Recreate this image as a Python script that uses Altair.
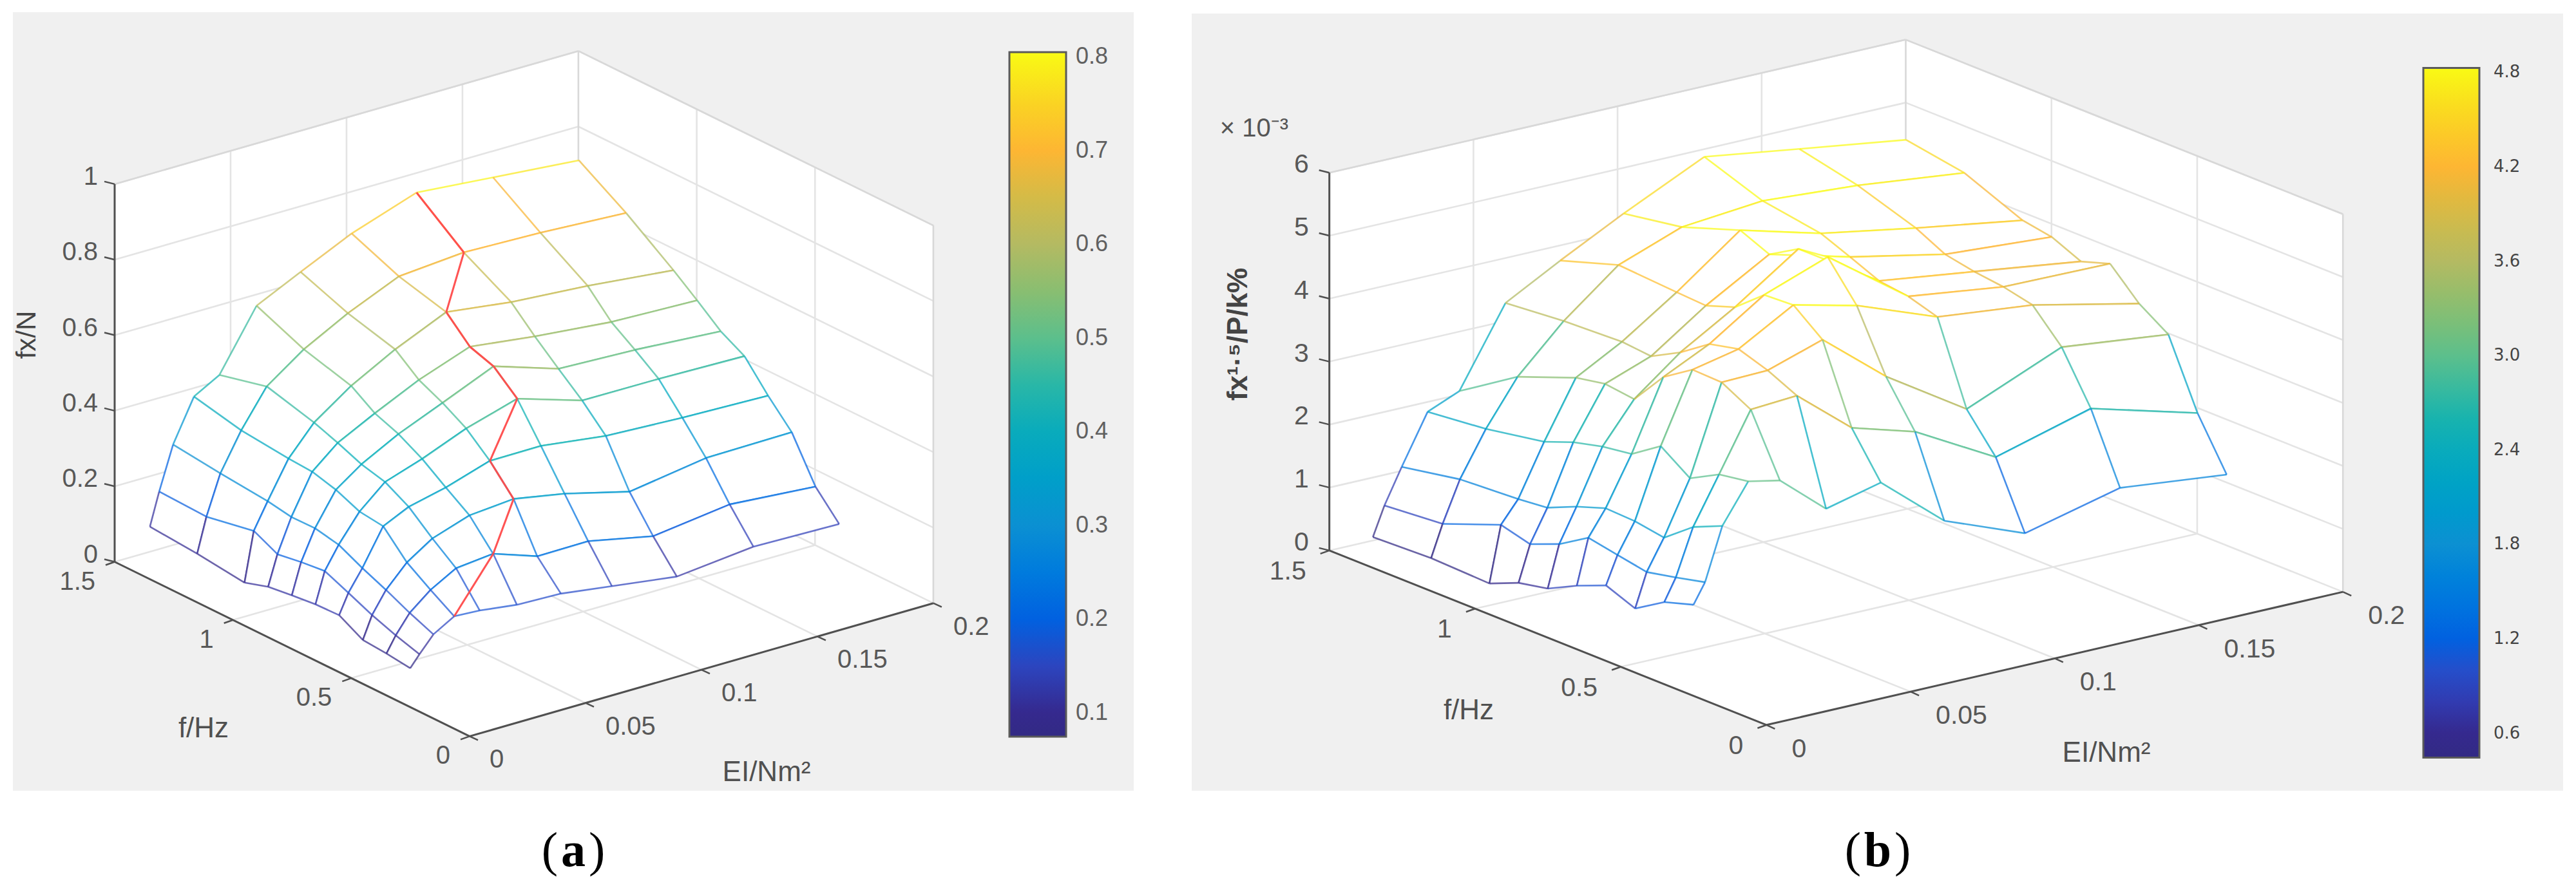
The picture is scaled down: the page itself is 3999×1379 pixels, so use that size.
import altair as alt
import pandas as pd

# ---------- data ----------
f_vals = [0.3, 0.4, 0.5, 0.6, 0.7, 0.8, 0.9, 1.0, 1.2, 1.4]
ei_vals = [0.005, 0.009, 0.015, 0.024, 0.035, 0.051, 0.07, 0.092, 0.12, 0.153, 0.19]

z_a = [
    [.079, .109, .151, .183, .179, .166, .162, .143, .119, .140, .135],
    [.087, .128, .177, .222, .260, .270, .230, .231, .195, .221, .203],
    [.092, .151, .207, .264, .308, .341, .351, .326, .282, .313, .316],
    [.127, .179, .234, .329, .361, .384, .421, .422, .399, .389, .382],
    [.125, .206, .265, .337, .396, .429, .476, .516, .462, .461, .456],
    [.118, .199, .278, .364, .412, .464, .513, .571, .515, .507, .491],
    [.110, .189, .277, .381, .438, .488, .543, .592, .570, .550, .542],
    [.090, .220, .288, .385, .461, .530, .593, .653, .630, .615, .591],
    [.105, .196, .300, .398, .495, .565, .627, .686, .700, .694, .681],
    [.115, .201, .315, .426, .464, .619, .675, .738, .797, .779, .759],
]
z_b = [
    [1.302, 1.618, 2.449, 3.062, 2.959, 2.341, 2.556, 1.717, 1.222, 1.594, 1.414],
    [1.160, 1.508, 2.247, 2.987, 3.900, 3.951, 3.240, 2.945, 2.246, 2.669, 2.206],
    [0.873, 1.410, 1.893, 2.741, 4.148, 4.169, 4.455, 3.638, 2.824, 3.460, 3.270],
    [1.055, 1.497, 1.969, 3.067, 4.165, 4.323, 4.822, 4.580, 4.103, 3.944, 3.574],
    [0.867, 1.586, 1.990, 2.757, 3.863, 4.219, 4.798, 5.168, 4.245, 4.048, 4.025],
    [0.635, 1.300, 1.832, 2.691, 3.326, 3.900, 4.418, 5.111, 4.306, 4.105, 3.875],
    [0.542, 1.114, 1.630, 2.574, 3.386, 3.655, 4.258, 4.840, 4.502, 4.195, 4.080],
    [0.347, 1.236, 1.582, 2.397, 3.298, 3.700, 4.286, 5.038, 4.691, 4.427, 4.159],
    [0.380, 0.883, 1.526, 2.232, 2.944, 3.660, 4.349, 4.719, 4.839, 4.736, 4.544],
    [0.345, 0.804, 1.355, 2.135, 2.347, 3.577, 4.050, 4.565, 5.170, 4.946, 4.700],
]
# index into ei_vals of the red ridge line, for each entry of f_vals
ridge_idx = [3, 5, 6, 6, 7, 7, 7, 7, 8, 8]

f_ticks = [0, 0.5, 1, 1.5]
f_tick_labels = ["0", "0.5", "1", "1.5"]
ei_ticks = [0, 0.05, 0.1, 0.15, 0.2]
ei_tick_labels = ["0", "0.05", "0.1", "0.15", "0.2"]
z_ticks_a = [0, 0.2, 0.4, 0.6, 0.8, 1]
z_tick_labels_a = ["0", "0.2", "0.4", "0.6", "0.8", "1"]
z_ticks_b = [0, 1, 2, 3, 4, 5, 6]
z_tick_labels_b = ["0", "1", "2", "3", "4", "5", "6"]
cbar_ticks_a = [0.1, 0.2, 0.3, 0.4, 0.5, 0.6, 0.7, 0.8]
cbar_ticks_b = [0.6, 1.2, 1.8, 2.4, 3.0, 3.6, 4.2, 4.8]

cmap_pos = [0, .035, .09, .17, .31, .445, .58, .72, .855, .93, 1]
cmap_col = ["#322a84", "#35298e", "#2f3fb8", "#0660e0", "#0e90d2", "#09abbc",
            "#5abf8d", "#b4ba62", "#fdb533", "#f9d522", "#f9fb15"]

GRID = "#e4e4e4"
EDGE = "#d8d8d8"
AXIS = "#505050"
TXT = "#585858"


def panel(spec):
    x0, width = spec["x0"], spec["width"]
    zmax = spec["zmax"]
    z = spec["z"]
    ox, oy = spec["O"]
    fe, ee = spec["fend"], spec["eend"]
    vz = spec["vz"]

    def proj(f, e, v):
        return (ox + f / 1.5 * (fe[0] - ox) + e / 0.2 * (ee[0] - ox),
                oy + f / 1.5 * (fe[1] - oy) + e / 0.2 * (ee[1] - oy) - v / zmax * vz)

    X = alt.X("x:Q", scale=alt.Scale(domain=[x0, x0 + width], nice=False, zero=False), axis=None)
    Y = alt.Y("y:Q", scale=alt.Scale(domain=[1371, 8], nice=False, zero=False), axis=None)

    def rules(segs, color, w, op=1):
        df = pd.DataFrame([dict(x=a[0], y=a[1], x2=b[0], y2=b[1]) for a, b in segs])
        return alt.Chart(df).mark_rule(color=color, strokeWidth=w, strokeOpacity=op).encode(x=X, y=Y, x2="x2:Q", y2="y2:Q")

    def text(rows, **kw):
        df = pd.DataFrame(rows, columns=["x", "y", "t"])
        return alt.Chart(df).mark_text(**kw).encode(x=X, y=Y, text="t:N")

    layers = []
    # grey figure background
    gx0, gx1, gy0, gy1 = spec["grey"]
    layers.append(alt.Chart(pd.DataFrame([dict(x=gx0, x2=gx1, y=gy0, y2=gy1)]))
                  .mark_rect(color="#f0f0f0").encode(x=X, x2="x2:Q", y=Y, y2="y2:Q"))
    # white plot box
    box = [proj(1.5, 0, zmax), proj(1.5, .2, zmax), proj(0, .2, zmax),
           proj(0, .2, 0), proj(0, 0, 0), proj(1.5, 0, 0)]
    layers.append(alt.Chart(pd.DataFrame([dict(x=p[0], y=p[1], k=i) for i, p in enumerate(box)]))
                  .mark_line(fill="white", strokeOpacity=0)
                  .encode(x=X, y=Y, order="k:Q"))
    # grid lines on floor and walls
    grid = []
    for t in spec["zt"][1:]:
        grid.append((proj(1.5, 0, t), proj(1.5, .2, t)))
        grid.append((proj(1.5, .2, t), proj(0, .2, t)))
    for e in ei_ticks[1:-1]:
        grid.append((proj(1.5, e, 0), proj(1.5, e, zmax)))
        grid.append((proj(0, e, 0), proj(1.5, e, 0)))
    for f in f_ticks[1:-1]:
        grid.append((proj(f, .2, 0), proj(f, .2, zmax)))
        grid.append((proj(f, 0, 0), proj(f, .2, 0)))
    grid.append((proj(1.5, 0, 0), proj(1.5, .2, 0)))
    grid.append((proj(1.5, .2, 0), proj(0, .2, 0)))
    layers.append(rules(grid, GRID, 2.6))
    layers.append(rules([(proj(1.5, .2, 0), proj(1.5, .2, zmax)),
                         (proj(0, .2, 0), proj(0, .2, zmax)),
                         (proj(1.5, 0, zmax), proj(1.5, .2, zmax)),
                         (proj(1.5, .2, zmax), proj(0, .2, zmax))], EDGE, 2.6))

    # colour scale shared by mesh and colour bar
    lo, hi = spec["clim"]
    cscale = alt.Scale(domain=[lo + t * (hi - lo) for t in cmap_pos], range=cmap_col, clamp=True)
    legend = alt.Legend(orient="none", legendX=spec["barx"] - x0, legendY=spec["bary"] - 8,
                        direction="vertical", type="gradient", title=None,
                        gradientLength=spec["barlen"], gradientThickness=spec["barw"],
                        gradientStrokeColor="#5a5a5a", gradientStrokeWidth=3,
                        values=spec["cticks"], format=".1f", labelOverlap=False,
                        labelFont=spec["barfont"], labelFontSize=spec["barsize"],
                        labelColor=spec["barcolor"], labelOffset=spec["baroff"])

    # mesh, painted from the back strip to the front one; white faces hide what is behind
    first = True
    for i in range(len(f_vals) - 2, -1, -1):
        faces, edges = [], []
        for j in range(len(ei_vals) - 1):
            q = [(i, j), (i, j + 1), (i + 1, j + 1), (i + 1, j)]
            for k, (a, b) in enumerate(q):
                p = proj(f_vals[a], ei_vals[b], z[a][b])
                faces.append(dict(x=p[0], y=p[1], q=j, k=k))
        for a in (i + 1, i):
            for j in range(len(ei_vals) - 1):
                p, r = proj(f_vals[a], ei_vals[j], z[a][j]), proj(f_vals[a], ei_vals[j + 1], z[a][j + 1])
                edges.append(dict(x=p[0], y=p[1], x2=r[0], y2=r[1], v=z[a][j]))
        for j in range(len(ei_vals)):
            p, r = proj(f_vals[i], ei_vals[j], z[i][j]), proj(f_vals[i + 1], ei_vals[j], z[i + 1][j])
            edges.append(dict(x=p[0], y=p[1], x2=r[0], y2=r[1], v=z[i][j]))
        layers.append(alt.Chart(pd.DataFrame(faces)).mark_line(fill="white", strokeOpacity=0)
                      .encode(x=X, y=Y, detail="q:N", order="k:Q"))
        layers.append(alt.Chart(pd.DataFrame(edges)).mark_rule(strokeWidth=2.6, strokeOpacity=0.72)
                      .encode(x=X, y=Y, x2="x2:Q", y2="y2:Q",
                              color=alt.Color("v:Q", scale=cscale, legend=legend if first else None)))
        first = False

    # red ridge line
    if spec.get("ridge"):
        segs = []
        for i in range(len(f_vals) - 1):
            a, b = spec["ridge"][i], spec["ridge"][i + 1]
            segs.append((proj(f_vals[i], ei_vals[a], z[i][a]), proj(f_vals[i + 1], ei_vals[b], z[i + 1][b])))
        layers.append(rules(segs, "#ff4a4a", 3, 0.95))

    # axes
    layers.append(rules([(proj(1.5, 0, 0), proj(1.5, 0, zmax)),
                         (proj(1.5, 0, 0), proj(0, 0, 0)),
                         (proj(0, 0, 0), proj(0, .2, 0))], AXIS, 3))
    ticks = []
    for t in spec["zt"]:
        p = proj(1.5, 0, t)
        ticks.append((p, (p[0] - 16, p[1] - 4)))
    for f in f_ticks:
        p = proj(f, 0, 0)
        ticks.append((p, (p[0] - 14, p[1] + 5)))
    for e in ei_ticks:
        p = proj(0, e, 0)
        ticks.append((p, (p[0] + 13, p[1] + 6)))
    layers.append(rules(ticks, AXIS, 2.5))

    fs = spec["fs"]
    tk = dict(font="Liberation Sans", fontSize=fs, color=TXT, baseline="middle")
    d = spec["lab"]
    layers.append(text([(proj(1.5, 0, t)[0] + d["z"][0], proj(1.5, 0, t)[1] + d["z"][1], s)
                        for t, s in zip(spec["zt"], spec["ztl"])], align="right", **tk))
    layers.append(text([(proj(f, 0, 0)[0] + d["f"][0], proj(f, 0, 0)[1] + d["f"][1], s)
                        for f, s in zip(f_ticks, f_tick_labels)], align="right", **tk))
    layers.append(text([(proj(0, e, 0)[0] + d["e"][0], proj(0, e, 0)[1] + d["e"][1], s)
                        for e, s in zip(ei_ticks, ei_tick_labels)], align="left", **tk))

    # axis titles
    layers.append(text([spec["ztitle"][:3]], font="Liberation Sans", fontSize=spec["ztitle"][3],
                       color="#444444", angle=270, align="center", baseline="middle", fontWeight=spec["ztitle"][4]))
    layers.append(text(spec["titles"], font="Liberation Sans", fontSize=44, color="#505050",
                       align="center", baseline="middle"))
    if spec.get("mult"):
        layers.append(text([spec["mult"]], font="Liberation Sans", fontSize=40, color="#555555",
                           align="center", baseline="middle"))

    # colour-bar ticks
    bx1 = spec["barx"] + spec["barw"]
    by = lambda v: spec["bary"] + (hi - v) / (hi - lo) * spec["barlen"]
    layers.append(rules([((bx1 - 14, by(v)), (bx1, by(v))) for v in spec["cticks"]], "#3c3c3c", 2.5))

    # caption (letter in bold)
    cx, cy = spec["cap"]
    capkw = dict(font="Liberation Serif", fontSize=76, color="black", baseline="middle")
    layers.append(text([(cx - spec["capw"], cy, "(")], align="right", **capkw))
    layers.append(text([(cx, cy, spec["letter"])], align="center", fontWeight="bold", **capkw))
    layers.append(text([(cx + spec["capw"], cy, ")")], align="left", **capkw))

    return alt.layer(*layers).properties(width=width, height=1363)


panel_a = panel(dict(
    x0=8, width=1800, zmax=1, z=z_a, zt=z_ticks_a, ztl=z_tick_labels_a,
    O=(729.0, 1143.4), fend=(178.0, 872.5), eend=(1448.9, 936.7), vz=586.6,
    grey=(20, 1760, 19, 1228), clim=(0.0744, 0.805),
    barx=1567, bary=81, barlen=1063, barw=88, cticks=cbar_ticks_a,
    barfont="Liberation Sans", barsize=36, barcolor="#606060", baroff=15,
    ridge=ridge_idx, fs=40,
    lab=dict(z=(-26, -11), f=(-30, 31), e=(31, 37)),
    ztitle=(42, 520, "fx/N", 42, "normal"),
    titles=[(316, 1132, "f/Hz"), (1190, 1200, "EI/Nm²")],
    cap=(890, 1322), capw=24, letter="a",
))
panel_b = panel(dict(
    x0=1808, width=2183, zmax=6, z=z_b, zt=z_ticks_b, ztl=z_tick_labels_b,
    O=(2742.4, 1125.8), fend=(2063.7, 854.9), eend=(3637.2, 919.1), vz=586.6,
    grey=(1850, 3979, 21, 1228), clim=(0.445, 4.829),
    barx=3762, bary=105.4, barlen=1071, barw=87, cticks=cbar_ticks_b,
    barfont="DejaVu Sans", barsize=26, barcolor="#444444", baroff=22,
    fs=41,
    lab=dict(z=(-32, -12), f=(-36, 33), e=(39, 38)),
    ztitle=(1923, 519, "fx¹·⁵/P/k%", 44, "bold"),
    titles=[(2280, 1104, "f/Hz"), (3270, 1170, "EI/Nm²")],
    mult=(1947, 200, "× 10⁻³"),
    cap=(2915, 1322), capw=26, letter="b",
))

chart = (alt.hconcat(panel_a, panel_b, spacing=0)
         .resolve_scale(color="independent")
         .properties(padding=0, background="white")
         .configure_view(strokeWidth=0))
chart.save("out.html", embed_options={"renderer": "svg", "actions": False})
